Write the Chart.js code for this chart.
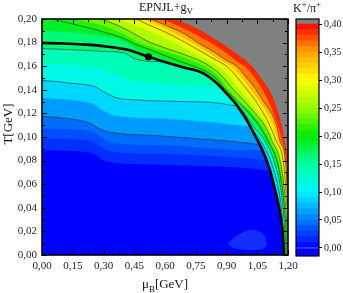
<!DOCTYPE html>
<html>
<head>
<meta charset="utf-8">
<script src="https://cdn.jsdelivr.net/npm/chart.js@4/dist/chart.umd.min.js"></script>
<style>
  html, body { margin: 0; padding: 0; background: #fff; }
  #wrap { position: relative; width: 343px; height: 293px; }
  #main { position: absolute; left: 0; top: 0; }
  #bar { position: absolute; left: 294px; top: 0; }
</style>
</head>
<body>
<div id="wrap">
  <canvas id="main" width="343" height="293"></canvas>
  <canvas id="bar" width="49" height="293"></canvas>
</div>
<script>
// axis ticks
const muTicks = [0, 0.15, 0.30, 0.45, 0.60, 0.75, 0.90, 1.05, 1.20];
const muMinor = [0.075, 0.225, 0.375, 0.525, 0.675, 0.825, 0.975, 1.125];
const tTicks = [0, 0.02, 0.04, 0.06, 0.08, 0.10, 0.12, 0.14, 0.16, 0.18, 0.20];
const tMinor = [0.01, 0.03, 0.05, 0.07, 0.09, 0.11, 0.13, 0.15, 0.17, 0.19];
const ratioTicks = [0, 0.05, 0.10, 0.15, 0.20, 0.25, 0.30, 0.35, 0.40];

// contour levels of K+/pi+ and the curve T(muB) of each one, [muB, T] in GeV
const levels = [0.0125, 0.025, 0.0375, 0.05, 0.075, 0.10, 0.125, 0.15, 0.175, 0.20,
                0.225, 0.25, 0.275, 0.30, 0.325, 0.35, 0.375, 0.40];
const k0125 = [[0,.0885],[.2,.0875],[.26,.085],[.3,.0805],[.36,.078],[.6,.0765],[.9,.0745],[1.0,.0735],[1.06,.0725],[1.1,.0715],[1.113,.0705],[1.13,.060],[1.15,.046],[1.165,.032],[1.175,.017],[1.18,0],[1.2,-.005]];
const k025 = [[0,.0985],[.2,.0975],[.26,.095],[.3,.090],[.36,.087],[.6,.0855],[.9,.083],[1.0,.082],[1.06,.081],[1.093,.0806],[1.11,.073],[1.13,.060],[1.15,.046],[1.165,.032],[1.175,.017],[1.18,0],[1.2,-.005]];
const k0375 = [[0,.107],[.2,.106],[.26,.1035],[.3,.098],[.36,.0945],[.6,.093],[.9,.0895],[1.0,.089],[1.07,.0885],[1.08,.087],[1.11,.073],[1.13,.060],[1.15,.046],[1.165,.032],[1.175,.017],[1.18,0],[1.2,-.005]];
const k05 = [[0,.1176],[.15,.115],[.235,.1116],[.27,.108],[.3,.1055],[.35,.1035],[.578,.101],[.8,.098],[1.0,.095],[1.04,.094],[1.062,.0933],[1.08,.087],[1.11,.073],[1.13,.060],[1.15,.046],[1.165,.032],[1.175,.017],[1.18,0],[1.2,-.005]];
const k075 = [[0,.133],[.2,.130],[.26,.127],[.3,.122],[.36,.118],[.6,.1155],[.8,.113],[.9,.111],[.97,.1095],[1.0,.1092],[1.012,.1101],[1.04,.101],[1.08,.087],[1.11,.073],[1.13,.060],[1.15,.046],[1.165,.032],[1.175,.017],[1.18,0],[1.2,-.005]];
const k10 = [[0,.148],[.15,.1455],[.26,.1425],[.3,.1385],[.366,.133],[.45,.1315],[.578,.1305],[.7,.130],[.8,.1295],[.87,.1285],[.92,.127],[.956,.1257],[1.0,.114],[1.02,.1075],[1.065,.0975],[1.125,.075],[1.163,.0466],[1.178,.02],[1.184,0],[1.2,-.005]];
const k125 = [[0,.162],[.2,.160],[.3,.157],[.36,.1535],[.40,.149],[.45,.147],[.6,.145],[.7,.1435],[.8,.1425],[.86,.1415],[.88,.1406],[.9,.137],[.95,.127],[1.0,.114],[1.03,.1065],[1.075,.0975],[1.133,.075],[1.167,.0466],[1.181,.02],[1.186,0],[1.2,-.005]];
const k15 = [[0,.175],[.2,.1735],[.3,.1725],[.397,.1715],[.42,.1695],[.447,.1667],[.5,.1645],[.55,.164],[.6,.1635],[.7,.1585],[.78,.1545],[.85,.146],[.9,.137],[.95,.127],[.97,.124],[1.0,.117],[1.04,.107],[1.085,.0975],[1.14,.075],[1.172,.0466],[1.184,.02],[1.189,0],[1.2,-.005]];
const k175 = [[0,.190],[.15,.1885],[.3,.1855],[.38,.1825],[.42,.179],[.47,.1735],[.52,.1705],[.6,.1655],[.65,.161],[.7,.1585],[.78,.1545],[.85,.146],[.9,.137],[.93,.1325],[.97,.126],[1.0,.1205],[1.05,.110],[1.092,.0975],[1.147,.075],[1.176,.0466],[1.187,.02],[1.191,0],[1.2,-.005]];
const k20 = [[.054,.2],[.15,.1958],[.25,.1915],[.33,.1875],[.40,.1835],[.45,.179],[.52,.1745],[.6,.169],[.7,.1625],[.8,.1555],[.85,.1495],[.895,.14],[.95,.1315],[1.01,.1205],[1.06,.1095],[1.10,.0975],[1.153,.075],[1.179,.0466],[1.19,.02],[1.193,0],[1.2,-.005]];
const k225 = [[.17,.2],[.3,.194],[.4,.187],[.46,.181],[.52,.177],[.6,.1725],[.7,.167],[.78,.161],[.85,.153],[.91,.14],[.96,.13],[1.025,.12],[1.07,.1105],[1.11,.0975],[1.16,.075],[1.183,.0466],[1.193,.02],[1.195,0],[1.2,-.005]];
const k25 = [[.29,.2],[.397,.1924],[.464,.186],[.53,.18],[.6,.1755],[.7,.1695],[.8,.162],[.87,.153],[.935,.14],[.99,.13],[1.04,.12],[1.085,.11],[1.12,.0975],[1.167,.075],[1.186,.0466],[1.195,.02],[1.197,0],[1.2,-.005]];
const k275 = [[.38,.2],[.45,.195],[.55,.188],[.64,.18],[.72,.173],[.8,.1655],[.86,.16],[.91,.152],[.965,.14],[1.01,.131],[1.06,.12],[1.1,.11],[1.13,.0975],[1.174,.075],[1.189,.0466],[1.197,.02],[1.199,0],[1.2,-.005]];
const k30 = [[.46,.2],[.52,.195],[.6,.189],[.7,.18],[.78,.172],[.85,.165],[.9,.16],[.95,.151],[1.0,.14],[1.04,.131],[1.08,.12],[1.11,.11],[1.14,.0975],[1.18,.075],[1.192,.0466],[1.199,.02],[1.2,.008]];
const k325 = [[.495,.2],[.56,.1955],[.65,.188],[.73,.18],[.8,.173],[.87,.165],[.925,.16],[.97,.152],[1.02,.14],[1.06,.1305],[1.10,.12],[1.13,.109],[1.15,.0975],[1.186,.075],[1.195,.0466],[1.2,.03]];
const k35 = [[.53,.2],[.6,.195],[.7,.187],[.76,.18],[.84,.172],[.9,.165],[.95,.16],[.99,.152],[1.045,.14],[1.08,.13],[1.12,.12],[1.145,.109],[1.16,.0975],[1.19,.075],[1.198,.0466],[1.2,.04]];
const k375 = [[.585,.2],[.68,.193],[.76,.186],[.82,.18],[.9,.171],[.96,.163],[.99,.16],[1.03,.152],[1.07,.142],[1.10,.132],[1.13,.12],[1.155,.107],[1.17,.0975],[1.195,.075],[1.2,.06]];
const k40 = [[.642,.2],[.72,.195],[.798,.188],[.87,.18],[.955,.17],[1.019,.161],[1.06,.152],[1.102,.1415],[1.13,.132],[1.156,.1186],[1.17,.11],[1.183,.0975],[1.195,.085],[1.2,.072]];
const curves = [k0125, k025, k0375, k05, k075, k10, k125, k15, k175, k20,
                k225, k25, k275, k30, k325, k35, k375, k40];
const drawnLevels = [0.05, 0.10, 0.15, 0.20, 0.25, 0.30, 0.35];

// small closed patch near the bottom, slightly above the floor value
const blob = [[.905,.0099],[.97,.0186],[1.033,.0212],[1.082,.0169],[1.092,.007],[1.033,.0042],[.935,.006],[.905,.0099]];

// chiral transition line and the critical end point
const transition = [[0,.1797],[.1,.1793],[.2,.1785],[.3,.177],[.4,.1745],[.45,.1722],[.52,.168],[.6,.1635],[.7,.1585],[.78,.1545],[.85,.146],[.9,.137],[.95,.127],[1.0,.114],[1.04,.101],[1.08,.087],[1.11,.073],[1.13,.060],[1.15,.046],[1.165,.032],[1.175,.017],[1.18,0]];
const cep = [0.519, 0.168];

// colour map
const cmapAt = [0, 0.05, 0.10, 0.15, 0.20, 0.25, 0.30, 0.35, 0.40];
const cmapRGB = [[0,0,255],[0,125,255],[0,245,255],[0,255,160],[0,235,0],[150,250,0],[255,255,0],[255,160,0],[255,0,0]];
const GRAY = 'rgb(128,128,128)';

function cmap(v) {
  if (v <= cmapAt[0]) return 'rgb(' + cmapRGB[0].join(',') + ')';
  for (let i = 1; i < cmapAt.length; i++) {
    if (v <= cmapAt[i]) {
      const f = (v - cmapAt[i - 1]) / (cmapAt[i] - cmapAt[i - 1]);
      const a = cmapRGB[i - 1], b = cmapRGB[i];
      return 'rgb(' + a.map((c, k) => Math.round(c + (b[k] - c) * f)).join(',') + ')';
    }
  }
  return 'rgb(' + cmapRGB[cmapRGB.length - 1].join(',') + ')';
}
const pts = arr => arr.map(([x, y]) => ({x, y}));
const fmt = v => v.toFixed(2).replace('.', ',');
const SERIF = '"Liberation Serif", "DejaVu Serif", serif';

function richText(ctx, parts, cx, base, size) {
  const big = size + 'px ' + SERIF, small = Math.round(size * 0.72) + 'px ' + SERIF;
  let w = 0;
  parts.forEach(([t, k]) => { ctx.font = k ? small : big; w += ctx.measureText(t).width; });
  let x = cx - w / 2;
  ctx.textAlign = 'left';
  ctx.textBaseline = 'alphabetic';
  parts.forEach(([t, k]) => {
    ctx.font = k ? small : big;
    const dy = k === 'sub' ? size * 0.28 : (k === 'sup' ? -size * 0.38 : 0);
    ctx.fillText(t, x, base + dy);
    x += ctx.measureText(t).width;
  });
}

// datasets: floor, one filled region per level, then the lines on top
const datasets = [];
datasets.push({data: pts([[0, -0.01], [1.2, -0.01]]), fill: 'end', backgroundColor: cmap(0),
  borderWidth: 0, order: 300});
datasets.push({data: pts(blob), fill: 'shape', backgroundColor: 'rgb(20,45,250)',
  borderWidth: 0, tension: 0.4, order: 290});
curves.forEach((c, i) => {
  const isLast = i === curves.length - 1;
  const col = isLast ? GRAY : cmap((levels[i] + levels[i + 1]) / 2);
  const drawn = drawnLevels.some(l => Math.abs(l - levels[i]) < 1e-6);
  datasets.push({
    data: pts(c), fill: 'end', backgroundColor: col,
    borderColor: 'rgba(45,45,45,0.65)', borderWidth: drawn ? 0.9 : 0,
    cubicInterpolationMode: 'monotone', order: 250 - i
  });
});
datasets.push({data: pts(transition), fill: false, borderColor: '#000', borderWidth: 2.6,
  cubicInterpolationMode: 'monotone', order: 1});
datasets.push({data: pts([cep]), showLine: false, pointRadius: 3.6, pointBackgroundColor: '#000',
  pointBorderWidth: 0, order: 0});

const frame = {
  id: 'frame',
  afterDraw(chart) {
    const {ctx, chartArea: a, scales: {x, y}} = chart;
    ctx.save();
    ctx.strokeStyle = '#000';
    ctx.lineWidth = 1;
    ctx.beginPath();
    muTicks.concat(muMinor).forEach(v => {
      const px = Math.round(x.getPixelForValue(v)) + 0.5;
      const len = muTicks.includes(v) ? 5 : 3;
      ctx.moveTo(px, a.bottom); ctx.lineTo(px, a.bottom - len);
      ctx.moveTo(px, a.top); ctx.lineTo(px, a.top + len);
    });
    tTicks.concat(tMinor).forEach(v => {
      const py = Math.round(y.getPixelForValue(v)) + 0.5;
      const len = tTicks.includes(v) ? 5 : 3;
      ctx.moveTo(a.left, py); ctx.lineTo(a.left + len, py);
      ctx.moveTo(a.right, py); ctx.lineTo(a.right - len, py);
    });
    ctx.stroke();
    ctx.lineWidth = 1.6;
    ctx.strokeRect(a.left, a.top, a.right - a.left, a.bottom - a.top);

    ctx.fillStyle = '#111';
    richText(ctx, [['EPNJL+g', ''], ['V', 'sub']], 166, 11, 12);
    richText(ctx, [['K', ''], ['+', 'sup'], ['/\u03c0', ''], ['+', 'sup']], 307, 12, 12);
    richText(ctx, [['\u03bc', ''], ['B', 'sub'], ['[GeV]', '']], 165, 288, 13);
    ctx.translate(12, 124);
    ctx.rotate(-Math.PI / 2);
    richText(ctx, [['T[GeV]', '']], 0, 0, 13);
    ctx.restore();
  }
};

new Chart(document.getElementById('main'), {
  type: 'line',
  data: {datasets},
  options: {
    responsive: false, animation: false, devicePixelRatio: 1,
    layout: {padding: {left: 0, top: 19, right: 55, bottom: 0}},
    elements: {point: {radius: 0}, line: {tension: 0}},
    plugins: {legend: {display: false}, tooltip: {enabled: false}},
    scales: {
      x: {
        type: 'linear', min: 0, max: 1.2,
        afterBuildTicks: s => { s.ticks = muTicks.map(v => ({value: v})); },
        afterFit: s => { s.height = 38; },
        ticks: {callback: v => fmt(v), font: {family: SERIF, size: 11}, color: '#222', padding: 5, maxRotation: 0},
        grid: {display: false, drawTicks: false}, border: {display: false}
      },
      y: {
        type: 'linear', min: 0, max: 0.2,
        afterBuildTicks: s => { s.ticks = tTicks.map(v => ({value: v})); },
        afterFit: s => { s.width = 42; },
        ticks: {callback: v => fmt(v), font: {family: SERIF, size: 11}, color: '#222', padding: 5},
        grid: {display: false, drawTicks: false}, border: {display: false}
      }
    }
  },
  plugins: [frame]
});

// colour bar
const barBands = [{lo: -0.0143, hi: 0, c: cmap(0)}];
for (let k = 0; k < 40; k++) {
  const lo = k / 100;
  barBands.push({lo, hi: lo + 0.01, c: cmap(lo + 0.005)});
}
barBands.push({lo: 0.40, hi: 0.409, c: GRAY});

const barFrame = {
  id: 'barFrame',
  afterDraw(chart) {
    const {ctx, chartArea: a} = chart;
    ctx.save();
    ctx.strokeStyle = '#000';
    ctx.lineWidth = 1.2;
    ctx.strokeRect(a.left, a.top, a.right - a.left, a.bottom - a.top);
    ctx.restore();
  }
};

new Chart(document.getElementById('bar'), {
  type: 'bar',
  data: {
    labels: ['r'],
    datasets: barBands.map(b => ({
      data: [[b.lo, b.hi]], backgroundColor: b.c, borderWidth: 0,
      grouped: false, barPercentage: 1, categoryPercentage: 1
    }))
  },
  options: {
    responsive: false, animation: false, devicePixelRatio: 1,
    layout: {padding: {left: 2, top: 19, right: 0, bottom: 37}},
    plugins: {legend: {display: false}, tooltip: {enabled: false}},
    scales: {
      x: {display: false},
      y: {
        position: 'right', min: -0.0143, max: 0.409,
        afterBuildTicks: s => { s.ticks = ratioTicks.map(v => ({value: v})); },
        afterFit: s => { s.width = 24; },
        ticks: {callback: v => fmt(v), font: {family: SERIF, size: 10}, color: '#222', padding: 2},
        grid: {drawOnChartArea: false, tickLength: 3, color: '#000'},
        border: {display: false}
      }
    }
  },
  plugins: [barFrame]
});
</script>
</body>
</html>
